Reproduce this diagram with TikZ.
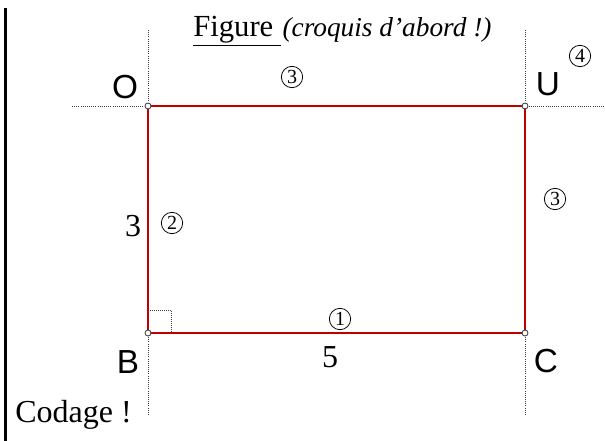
\documentclass[tikz,border=0pt]{standalone}
\usepackage{fontspec}
\setmainfont{Liberation Serif}
\newfontfamily\lettrefont{Liberation Sans}
\usetikzlibrary{positioning}

\begin{document}
\begin{tikzpicture}[x=0.75pt,y=0.75pt,yscale=-1,xscale=1,
  sommet/.style={circle,draw=black!80,fill=white,line width=0.6pt,inner sep=0pt,minimum size=4.5pt},
  lettre/.style={inner sep=0.75pt,font=\lettrefont\fontsize{25}{28}\selectfont},
  cercle/.style={circle,draw,line width=0.6pt,inner sep=0pt,minimum size=16pt,font=\fontsize{15}{17}\selectfont},
  texte/.style={inner sep=0.75pt,font=\fontsize{24}{27}\selectfont},
  construction/.style={densely dotted,line width=0.6pt,color=black!75}]
\useasboundingbox (0,0) rectangle (605,441);

%Marge
\fill [black] (4,8) rectangle (7,441);

%Lignes de construction
\draw [construction] (148,30) -- (148,415);
\draw [construction] (525,30) -- (525,416);
\draw [construction] (72,106) -- (605,106);

%Angle droit
\draw [construction,line width=0.5pt] (148,310) -- (171,310) -- (171,333);

%Rectangle
\coordinate (O) at (148,106);
\coordinate (U) at (525,106);
\coordinate (C) at (525,333);
\coordinate (B) at (148,333);
\draw [color={rgb, 255:red, 192; green, 0; blue, 0 },line width=1.2pt] (O) -- (U) -- (C) -- (B) -- cycle;
\foreach \s in {O,U,C,B}
  \node [sommet] (pt\s) at (\s) {};

% Text Node
\node [texte,anchor=base west,font=\fontsize{23}{26}\selectfont] (titre) at (192,37) {\underline{Figure\ }};
\node [texte,anchor=base west,font=\itshape\fontsize{20.5}{23}\selectfont,inner sep=0pt] (croquis) at (titre.base east) {(croquis d’abord !)};
% Text Node
\node [lettre] (nomO) at (125,87) {O};
\node [lettre] (nomU) at (548,84) {U};
\node [lettre] (nomB) at (128,362) {B};
\node [lettre] (nomC) at (546,361) {C};
% Text Node
\node [cercle] (etape1) at (340,319) {1};
\node [cercle] (etape2) at (172,223) {2};
\node [cercle] (etape3a) at (292,77) {3};
\node [cercle] (etape3b) at (555,199) {3};
\node [cercle] (etape4) at (580,56) {4};
% Text Node
\node [texte] (long3) at (133,226) {3};
\node [texte] (long5) at (330,357) {5};
\node [texte,anchor=base west] (codage) at (14,422) {Codage !};
\end{tikzpicture}
\end{document}
